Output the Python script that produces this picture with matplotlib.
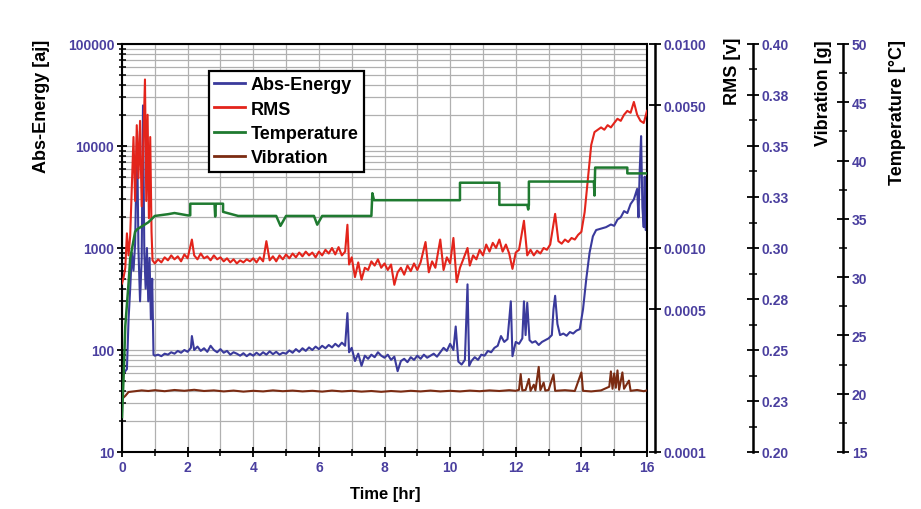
import matplotlib
matplotlib.use("Agg")
import matplotlib.pyplot as plt
from matplotlib.ticker import FixedLocator, FixedFormatter, NullFormatter, MultipleLocator

plt.rcParams["font.family"] = ["Liberation Sans", "DejaVu Sans"]

# ---- data ----
ae_t = [0.00, 0.05, 0.10, 0.15, 0.20, 0.25, 0.30, 0.35, 0.40, 0.46, 0.50, 0.55, 0.60, 0.64,
        0.68, 0.72, 0.76, 0.80, 0.84, 0.88, 0.92, 0.96,
        1.0, 1.1, 1.2, 1.3, 1.4, 1.5, 1.6, 1.7, 1.8, 1.9, 2.0, 2.1, 2.13, 2.2, 2.3, 2.4, 2.5,
        2.6, 2.7, 2.8, 2.9, 3.0, 3.1, 3.2, 3.3, 3.4, 3.5, 3.6, 3.7, 3.8, 3.9, 4.0, 4.1, 4.2,
        4.3, 4.4, 4.5, 4.6, 4.7, 4.8, 4.9, 5.0, 5.1, 5.2, 5.3, 5.4, 5.5, 5.6, 5.7, 5.8, 5.9,
        6.0, 6.1, 6.2, 6.3, 6.4, 6.5, 6.6, 6.7, 6.8, 6.87, 6.92, 7.0, 7.1, 7.2, 7.3, 7.4, 7.5,
        7.6, 7.7, 7.8, 7.9, 8.0, 8.1, 8.2, 8.3, 8.4, 8.5, 8.6, 8.7, 8.8, 8.9, 9.0, 9.1, 9.2,
        9.3, 9.4, 9.5, 9.6, 9.7, 9.8, 9.9, 10.0, 10.1, 10.17, 10.25, 10.35, 10.45, 10.53,
        10.58, 10.65, 10.75, 10.85, 10.95, 11.05, 11.15, 11.25, 11.35, 11.45, 11.55, 11.65,
        11.75, 11.85, 11.9, 12.0, 12.1, 12.2, 12.25, 12.3, 12.35, 12.42, 12.5, 12.6, 12.7,
        12.8, 12.9, 13.0, 13.1, 13.15, 13.2, 13.27, 13.35, 13.45, 13.55, 13.65, 13.75, 13.85,
        13.95, 14.05, 14.15, 14.25, 14.35, 14.45, 14.6, 14.75, 14.9, 15.0, 15.1, 15.2, 15.3,
        15.4, 15.5, 15.6, 15.7, 15.74, 15.78, 15.82, 15.86, 15.9, 15.93, 15.96, 16.0]
ae_val = [70, 60, 62, 65, 200, 400, 900, 600, 1100, 14000, 1000, 300, 800, 25000,
          900, 400, 1000, 300, 800, 200, 500, 90,
          88, 90, 87, 92, 90, 95, 92, 98, 94, 100, 96, 105, 137, 100, 108, 98, 104,
          96, 110, 100, 95, 102, 94, 98, 90, 95, 92, 88, 93, 87, 92, 88, 94, 89,
          95, 90, 97, 91, 96, 90, 94, 92, 99, 94, 102, 96, 104, 98, 106, 100, 108,
          102, 110, 104, 112, 106, 115, 108, 118, 110, 230, 95, 105, 78, 92, 70, 88, 82,
          90, 85, 95, 88, 84, 90, 80, 86, 62, 78, 82, 76, 85, 80, 88, 82, 90,
          84, 88, 92, 86, 95, 105, 98, 115, 100, 170, 77, 72, 80, 440,
          70, 78, 85, 80, 90, 88, 98, 95, 105, 110, 137, 120,
          128, 300, 87, 120, 115, 130, 300, 140, 290, 125, 118, 122, 112,
          120, 125, 130, 140, 250, 340, 180, 140, 145, 138, 150, 145, 155,
          160, 250, 500, 900, 1300, 1500, 1550, 1600, 1700, 1650, 1900, 2000, 2300,
          2200, 2700, 3000, 3800, 2000, 6000, 12500, 2500, 1600, 5000, 1500, 4000]

rms_t = [0.00, 0.05, 0.10, 0.15, 0.20, 0.25, 0.30, 0.35, 0.40, 0.45, 0.50, 0.55, 0.60, 0.65,
         0.70, 0.74, 0.78, 0.82, 0.86, 0.90, 0.93,
         1.0, 1.1, 1.2, 1.3, 1.4, 1.5, 1.6, 1.7, 1.8, 1.9, 2.0, 2.13, 2.2, 2.3, 2.4, 2.5, 2.6,
         2.7, 2.8, 2.9, 3.0, 3.1, 3.2, 3.3, 3.4, 3.5, 3.6, 3.7, 3.8, 3.9, 4.0, 4.1, 4.2, 4.3,
         4.4, 4.5, 4.6, 4.7, 4.8, 4.9, 5.0, 5.1, 5.2, 5.3, 5.4, 5.5, 5.6, 5.7, 5.8, 5.9, 6.0,
         6.1, 6.2, 6.3, 6.4, 6.5, 6.6, 6.7, 6.8, 6.87, 6.92, 7.0, 7.1, 7.2, 7.3, 7.4, 7.5, 7.6,
         7.7, 7.8, 7.9, 8.0, 8.1, 8.2, 8.3, 8.4, 8.5, 8.6, 8.7, 8.8, 8.9, 9.0, 9.1, 9.25, 9.35,
         9.45, 9.55, 9.7, 9.8, 9.9, 10.0, 10.1, 10.2, 10.3, 10.4, 10.53, 10.6, 10.7, 10.8,
         10.9, 11.0, 11.1, 11.2, 11.3, 11.4, 11.5, 11.6, 11.7, 11.8, 11.9, 12.0, 12.1, 12.25,
         12.35, 12.45, 12.55, 12.65, 12.75, 12.85, 12.95, 13.05, 13.2, 13.3, 13.4, 13.5, 13.6,
         13.7, 13.8, 13.9, 14.0, 14.1, 14.2, 14.3, 14.4, 14.5, 14.6, 14.7, 14.8, 14.9, 15.0,
         15.1, 15.2, 15.3, 15.4, 15.5, 15.6, 15.7, 15.8, 15.9, 16.0]
rms_val = [0.00067, 0.00072, 0.00080, 0.00118, 0.00092, 0.00115, 0.0020, 0.0035, 0.0017,
           0.0040, 0.0022, 0.0042, 0.0016, 0.0032, 0.0067, 0.0017, 0.0045, 0.0014, 0.0035,
           0.0012, 0.00087,
           0.00084, 0.00088, 0.00085, 0.00090, 0.00087, 0.00092, 0.00088, 0.00091, 0.00086,
           0.00093, 0.00089, 0.00110, 0.00092, 0.00088, 0.00094, 0.00089, 0.00091, 0.00087,
           0.00092, 0.00088, 0.00090, 0.00086, 0.00089, 0.00085, 0.00088, 0.00084, 0.00087,
           0.00085, 0.00088, 0.00086, 0.00089, 0.00085, 0.00090, 0.00086, 0.00108, 0.00087,
           0.00091, 0.00086, 0.00092, 0.00088, 0.00093, 0.00089, 0.00094, 0.00090, 0.00095,
           0.00091, 0.00096, 0.00092, 0.00095, 0.00090, 0.00096, 0.00092, 0.00098, 0.00094,
           0.00100, 0.00093, 0.00101, 0.00092, 0.00096, 0.00130, 0.00083, 0.00090, 0.00072,
           0.00085, 0.00070, 0.00080, 0.00078, 0.00086, 0.00082, 0.00088, 0.00080, 0.00084,
           0.00078, 0.00083, 0.00066, 0.00076, 0.00080, 0.00074, 0.00082, 0.00077, 0.00084,
           0.00078, 0.00085, 0.00107, 0.00076, 0.00086, 0.00080, 0.00110, 0.00078, 0.00090,
           0.00084, 0.00112, 0.00068, 0.00080, 0.00088, 0.00100, 0.00082, 0.00092, 0.00088,
           0.00098, 0.00092, 0.00104, 0.00096, 0.00106, 0.00100, 0.00110, 0.00096, 0.00104,
           0.00094, 0.00079, 0.00095, 0.00098, 0.00136, 0.00092, 0.00098, 0.00092, 0.00097,
           0.00094, 0.00100, 0.00098, 0.00104, 0.00147, 0.00108, 0.00105, 0.00110, 0.00107,
           0.00112, 0.00110, 0.00116, 0.00120, 0.00150, 0.0022, 0.0032, 0.0037, 0.0038,
           0.0039, 0.0038, 0.0040, 0.0039, 0.0041, 0.0043, 0.0042, 0.0045, 0.0047, 0.0046,
           0.0052, 0.0045, 0.0042, 0.0041, 0.0047]

temp_t = [0.0, 0.05, 0.10, 0.20, 0.25, 0.40, 0.46, 0.80, 1.0, 1.4, 1.6, 2.0, 2.08, 2.08,
          2.82, 2.84, 2.86, 3.08, 3.08, 3.54, 4.70, 4.83, 4.95, 5.0, 5.85, 5.95, 6.05, 6.1,
          7.60, 7.63, 7.68, 10.3, 10.3, 11.5, 11.5, 12.35, 12.38, 12.4, 12.4, 14.38, 14.40,
          14.42, 15.4, 15.4, 16.0]
temp_val = [18.0, 21.5, 25.8, 29.5, 31.6, 33.9, 34.1, 34.7, 35.25, 35.4, 35.5, 35.3, 35.3, 36.3,
            36.3, 35.2, 36.3, 36.3, 35.6, 35.25, 35.25, 34.4, 35.0, 35.25, 35.25, 34.5, 35.0, 35.25,
            35.25, 37.2, 36.6, 36.6, 38.1, 38.1, 36.2, 36.2, 35.8, 36.2, 38.2, 38.2, 37.0,
            39.4, 39.4, 38.9, 38.9]

vib_t = [0.0, 0.1, 0.2, 0.4, 0.6, 0.8, 1.0, 1.3, 1.6, 1.9, 2.2, 2.5, 2.8, 3.1, 3.4, 3.7, 4.0,
         4.3, 4.6, 4.9, 5.2, 5.5, 5.8, 6.1, 6.4, 6.7, 7.0, 7.3, 7.6, 7.9, 8.2, 8.5, 8.8, 9.1,
         9.4, 9.7, 10.0, 10.3, 10.6, 10.9, 11.2, 11.5, 11.8, 12.0, 12.1, 12.15, 12.2, 12.3,
         12.4, 12.45, 12.55, 12.6, 12.7, 12.75, 12.85, 12.9, 13.0, 13.15, 13.2, 13.5, 13.8,
         14.0, 14.05, 14.3, 14.6, 14.85, 14.9, 14.95, 15.0, 15.05, 15.1, 15.15, 15.25, 15.3,
         15.45, 15.5, 15.7, 15.9, 16.0]
vib_val = [0.2260, 0.2275, 0.2294, 0.2298, 0.2302, 0.2299, 0.2303, 0.2298, 0.2304, 0.2300,
           0.2305, 0.2299, 0.2302, 0.2297, 0.2301, 0.2296, 0.2300, 0.2297, 0.2302, 0.2298,
           0.2301, 0.2297, 0.2300, 0.2296, 0.2301, 0.2297, 0.2300, 0.2296, 0.2299, 0.2295,
           0.2299, 0.2296, 0.2300, 0.2297, 0.2301, 0.2297, 0.2300, 0.2297, 0.2301, 0.2298,
           0.2302, 0.2299, 0.2303, 0.2300, 0.2305, 0.2382, 0.2302, 0.2304, 0.2358, 0.2300,
           0.2330, 0.2302, 0.2417, 0.2303, 0.2340, 0.2301, 0.2304, 0.2380, 0.2300, 0.2303,
           0.2299, 0.2390, 0.2300, 0.2297, 0.2302, 0.2320, 0.2395, 0.2310, 0.2385, 0.2315,
           0.2400, 0.2305, 0.2390, 0.2310, 0.2350, 0.2300, 0.2304, 0.2298, 0.2302]

ae_ticks = [10, 100, 1000, 10000, 100000]
rms_ticks = [0.0001, 0.0005, 0.0010, 0.0050, 0.0100]
vib_ticks = [0.20, 0.225, 0.25, 0.275, 0.30, 0.325, 0.35, 0.375, 0.40]
vib_labels = ["0.20", "0.23", "0.25", "0.28", "0.30", "0.33", "0.35", "0.38", "0.40"]
temp_ticks = [15, 20, 25, 30, 35, 40, 45, 50]

# ---- styling ----
W, H = 921, 510
PX = 72 / 100  # points per pixel at dpi 100
tick_col = "#4a3f9f"
c_ae, c_rms, c_temp, c_vib = "#3a3a9c", "#e3241b", "#1f7a30", "#7b2b12"

fig = plt.figure(figsize=(W / 100, H / 100), dpi=100)
ax = fig.add_axes([122 / W, 1 - 453 / H, 525 / W, 408 / H])

ax.plot(ae_t, ae_val, color=c_ae, lw=1.5, label="Abs-Energy")
ax.set_yscale("log")
ax.set_ylim(10, 100000)
ax.set_xlim(0, 16)
ax.yaxis.set_major_locator(FixedLocator(ae_ticks))
ax.yaxis.set_major_formatter(FixedFormatter([str(v) for v in ae_ticks]))
ax.yaxis.set_minor_formatter(NullFormatter())
ax.xaxis.set_major_locator(MultipleLocator(2))
ax.xaxis.set_minor_locator(MultipleLocator(1))
ax.grid(True, which="both", color="#b0b0b0", lw=0.9)
ax.set_axisbelow(True)
ax.tick_params(which="major", direction="inout", length=10 * PX, width=1.3, colors="black",
               labelcolor=tick_col, labelsize=10, pad=2)
ax.tick_params(which="minor", direction="inout", length=7 * PX, width=1.1)
for lab in ax.get_xticklabels() + ax.get_yticklabels():
    lab.set_fontweight("bold")
for s in ax.spines.values():
    s.set_linewidth(1.5)


def side_axis(offset_px):
    a = ax.twinx()
    a.spines["right"].set_position(("outward", offset_px * PX))
    for k in ("left", "top", "bottom"):
        a.spines[k].set_visible(False)
    a.spines["right"].set_linewidth(1.8)
    a.tick_params(which="major", direction="inout", length=12 * PX, width=1.3,
                  labelcolor=tick_col, labelsize=10, pad=2)
    a.tick_params(which="minor", direction="inout", length=8 * PX, width=1.1)
    return a


ax_rms = side_axis(8)
ax_rms.plot(rms_t, rms_val, color=c_rms, lw=1.5, label="RMS")
ax_rms.set_yscale("log")
ax_rms.set_ylim(0.0001, 0.01)
ax_rms.yaxis.set_major_locator(FixedLocator(rms_ticks))
ax_rms.yaxis.set_major_formatter(FixedFormatter(["%.4f" % v for v in rms_ticks]))
ax_rms.yaxis.set_minor_locator(FixedLocator([]))

ax_vib = side_axis(106)
ax_vib.plot(vib_t, vib_val, color=c_vib, lw=1.5, label="Vibration")
ax_vib.set_ylim(0.20, 0.40)
ax_vib.yaxis.set_major_locator(FixedLocator(vib_ticks))
ax_vib.yaxis.set_major_formatter(FixedFormatter(vib_labels))
ax_vib.yaxis.set_minor_locator(MultipleLocator(0.0125))

ax_temp = side_axis(196)
ax_temp.plot(temp_t, temp_val, color=c_temp, lw=1.8, label="Temperature")
ax_temp.set_ylim(15, 50)
ax_temp.yaxis.set_major_locator(FixedLocator(temp_ticks))
ax_temp.yaxis.set_major_formatter(FixedFormatter([str(v) for v in temp_ticks]))
ax_temp.yaxis.set_minor_locator(MultipleLocator(2.5))

for a in (ax_rms, ax_vib, ax_temp):
    for lab in a.get_yticklabels():
        lab.set_fontweight("bold")

# legend in the order of the reference
handles = [ax.lines[0], ax_rms.lines[0], ax_temp.lines[0], ax_vib.lines[0]]
leg = ax_temp.legend(handles, [h.get_label() for h in handles], loc="upper left",
                     bbox_to_anchor=(209 / W, 1 - 72 / H), bbox_transform=fig.transFigure,
                     borderaxespad=0, fancybox=False, framealpha=1, edgecolor="black",
                     handlelength=1.7, handletextpad=0.3, labelspacing=0.4, borderpad=0.3,
                     prop={"size": 13, "weight": "bold"})
leg.get_frame().set_linewidth(1.6)
for h in leg.legend_handles:
    h.set_linewidth(2)

# axis titles
lab_kw = dict(rotation=90, ha="center", va="top", fontsize=13, fontweight="bold")
fig.text(42 / W, 1 - 40 / H, "Abs-Energy [aj]", **lab_kw)
fig.text(732 / W, 1 - 38 / H, "RMS [v]", **lab_kw)
fig.text(823 / W, 1 - 40 / H, "Vibration [g]", **lab_kw)
fig.text(897 / W, 1 - 40 / H, "Temperature [°C]", **lab_kw)
fig.text(385 / W, 1 - 495 / H, "Time [hr]", ha="center", va="center", fontsize=12,
         fontweight="bold")

fig.savefig("out.png", dpi=100)
